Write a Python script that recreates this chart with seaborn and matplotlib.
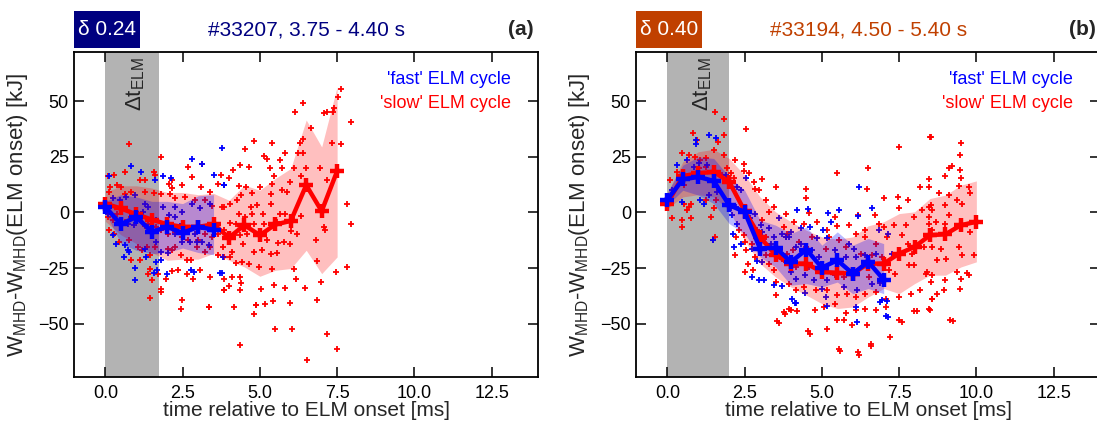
import numpy as np
import pandas as pd
import seaborn as sns
import matplotlib.pyplot as plt
from matplotlib.patches import Rectangle

sns.set_style("ticks")
plt.rcParams['font.family'] = ['Liberation Sans', 'DejaVu Sans']
plt.rcParams['mathtext.fontset'] = 'custom'
plt.rcParams['mathtext.rm'] = 'Liberation Sans'
plt.rcParams['mathtext.it'] = 'Liberation Sans:italic'

# ---------------- mean curves and spread bands ----------------
a_fast_t = [0, 0.5, 1.0, 1.5, 2.0, 2.5, 3.0, 3.5]
a_fast_mean = [2.5, -5.3, -2.0, -8.7, -6.5, -9.2, -6.5, -7.7]
a_fast_hi = [5, 8, 7, 5, 5, 4, 7.5, 8]
a_fast_lo = [0, -14, -17, -18.5, -18, -16, -18, -19]

a_slow_t = [0, 0.5, 1.0, 1.5, 2.0, 2.5, 3.0, 3.5, 4.0, 4.5, 5.0, 5.5, 6.0, 6.5, 7.0, 7.5]
a_slow_mean = [4.0, 1.8, -0.8, -3.2, -5.3, -6.5, -6.5, -5.3, -11.3, -5.7, -10.2, -5.4, -3.8, 12.3, 0.6, 18.6]
a_slow_hi = [9, 12, 12, 11, 9, 9, 8, 8.6, 5.5, 12.3, 10, 15.3, 19.8, 41.6, 29.5, 56.6]
a_slow_lo = [-4, -10, -14, -18, -21.5, -21, -21, -18.4, -21.5, -24.5, -28.7, -26, -25.2, -17, -27.5, -20]

b_fast_t = [0, 0.5, 1.0, 1.5, 2.0, 2.5, 3.0, 3.5, 4.0, 4.5, 5.0, 5.5, 6.0, 6.5, 7.0]
b_fast_mean = [5.8, 14.9, 16.0, 14.2, 3.3, 0.3, -16.2, -15.8, -22.2, -16.7, -24.8, -21.5, -27.5, -22.2, -30.2]
b_fast_hi = [9, 21.3, 25, 24.3, 16, 10, -3.5, -5.7, -9.5, -6.5, -14.7, -8.7, -14.7, -11.7, -14]
b_fast_lo = [3.3, 10, 7.8, 4, -5, -9.5, -20, -24.5, -32.7, -32, -33.5, -31.3, -36.5, -34.2, -36.5]

b_slow_t = [0, 0.5, 1.0, 1.5, 2.0, 2.5, 3.0, 3.5, 4.0, 4.5, 5.0, 5.5, 6.0, 6.5, 7.0, 7.5, 8.0, 8.5, 9.0, 9.5, 10.0]
b_slow_mean = [4.0, 16.4, 17.6, 18.3, 13.8, 0.7, -11, -19.2, -23, -23, -26.7, -27.2, -27.5, -23, -23,
               -18.5, -15.5, -10.2, -9.8, -5.7, -4.2]
b_slow_hi = [8.7, 22.8, 27.3, 28.4, 24.3, 16.8, 7.0, 0.3, -4.2, -8, -11, -12, -11, -6, -4.2,
             -0.5, 0.3, 6.3, 7.8, 12.3, 14.2]
b_slow_lo = [1.8, 7, 8, 7, 1, -12.5, -23, -29, -33.5, -37.2, -41, -43.2, -42.5, -38, -34.2,
             -36.5, -32, -28.2, -28.2, -24.5, -22.2]

# ---------------- individual ELM cycles (time, dW) ----------------
a_slow_pts = [
    (7.63, 55.4), (7.52, 52.1), (7.41, 46.8), (6.38, 49.1), (6.13, 45.0), (7.09, 44.6), (7.17, 45.3),
    (6.65, 37.8), (6.38, 32.9), (6.30, 31.4), (7.33, 31.1), (7.63, 30.8), (4.80, 32.1), (5.38, 31.4),
    (4.53, 28.4), (5.13, 25.4), (5.24, 23.9), (5.65, 23.6), (5.82, 26.9), (6.22, 26.6), (6.40, 26.6),
    (4.35, 21.3), (4.64, 20.6), (4.13, 19.0), (3.99, 15.3), (5.33, 19.8), (5.73, 19.8), (6.09, 19.8),
    (6.49, 19.8), (6.96, 20.1), (7.17, 14.5), (6.33, 16.3), (5.46, 16.3), (5.40, 13.0), (5.98, 13.8),
    (3.83, 12.3), (4.31, 11.8), (4.56, 11.5), (4.75, 8.8), (5.00, 11.5), (5.37, 8.5), (5.71, 10.3),
    (5.89, 9.3), (3.83, 2.5), (4.04, 4.0), (4.26, 5.5), (4.39, 7.8), (4.72, 2.5), (4.91, 3.3),
    (5.35, 4.0), (5.65, -0.5), (5.82, -0.5), (6.05, -2.7), (6.33, -1.7), (4.31, -0.5), (4.53, -2.0),
    (4.75, -0.5), (5.11, -0.8), (4.02, -4.7), (4.24, -5.3), (4.80, -5.3), (5.13, -5.0), (5.56, -4.5),
    (6.02, -8.4), (6.20, -9.5), (7.06, -6.5), (7.11, -7.7), (7.83, 3.7), (7.96, -5.3), (3.83, -8.0),
    (4.15, -10.2), (4.37, -10.2), (4.59, -9.5), (5.22, -12.5), (5.59, -13.7), (5.78, -13.2),
    (5.98, -14.0), (3.80, -15.5), (4.10, -17.7), (4.46, -14.0), (4.80, -17.7), (5.08, -17.0),
    (5.35, -18.5), (5.56, -18.0), (4.04, -20.0), (4.24, -22.7), (4.42, -22.2), (4.64, -23.0),
    (4.97, -24.5), (5.40, -25.2), (6.11, -25.2), (6.81, -12.5), (6.85, -21.9), (7.47, -26.7),
    (7.83, -24.5), (4.10, -29.0), (4.35, -29.0), (4.39, -31.7), (5.04, -34.3), (5.46, -32.8),
    (5.82, -33.8), (6.16, -29.8), (6.47, -34.0), (6.98, -31.3), (4.15, -42.5), (4.86, -41.8),
    (5.16, -41.0), (5.42, -39.8), (5.98, -40.7), (6.84, -39.2), (4.80, -45.5), (5.48, -52.3),
    (6.05, -52.3), (4.35, -59.5), (7.17, -54.8), (7.50, -61.3), (6.52, -66.5), (4.37, -35.0),
    (3.85, -34.7), (3.99, -33.2), (7.95, 40.7), (7.38, 45.0), (3.35, -42.7), (4.89, -41.7),
    (0.78, 30.6), (1.79, 25.1), (2.66, 20.3), (3.14, 21.6), (0.62, 18.3), (0.29, 16.8), (0.08, 16.3),
    (1.11, 14.8), (1.27, 14.5), (1.58, 18.3), (1.62, 16.8), (2.14, 14.8), (2.05, 13.0), (2.16, 11.2),
    (2.47, 12.3), (2.79, 16.0), (3.10, 11.5), (3.39, 9.3), (3.66, 13.0), (3.75, 16.8), (0.16, 11.5),
    (0.38, 12.3), (0.51, 11.5), (0.62, 8.5), (0.84, 9.3), (1.27, 9.3), (1.58, 8.8), (1.81, 8.5),
    (2.09, 8.5), (2.25, 6.7), (2.58, 7.0), (2.90, 5.5), (3.23, 5.8), (3.45, 2.8), (3.77, 2.5),
    (0.13, 9.3), (0.08, -2.0), (0.24, -3.5), (0.38, -0.5), (0.62, -4.2), (0.84, -2.0), (1.11, -3.5),
    (1.27, -6.2), (1.38, -5.0), (1.65, -6.5), (1.81, -8.0), (2.03, -9.5), (2.25, -8.7), (2.47, -11.0),
    (2.68, -12.5), (3.01, -12.5), (3.23, -9.5), (3.45, -11.0), (3.66, -9.5), (0.13, -8.0),
    (0.29, -9.5), (0.43, -13.2), (0.78, -12.5), (1.05, -15.5), (1.18, -17.0), (1.36, -15.5),
    (1.43, -19.2), (1.60, -15.5), (2.03, -16.2), (2.14, -17.0), (2.25, -15.5), (2.44, -19.2),
    (2.63, -21.5), (2.77, -21.5), (2.96, -15.5), (3.23, -17.7), (3.37, -15.5), (3.66, -19.2),
    (3.83, -20.0), (0.84, -21.5), (1.11, -21.5), (1.43, -25.2), (1.38, -27.5), (1.51, -30.2),
    (1.71, -27.5), (1.95, -29.7), (2.16, -26.3), (2.36, -26.0), (2.63, -27.5), (2.85, -29.7),
    (3.06, -26.0), (3.39, -29.0), (3.83, -29.7), (1.79, -34.3), (1.79, -35.8), (1.43, -38.3),
    (2.49, -39.5), (2.44, -43.3), (3.36, -42.5), (3.83, -35.0),
]

a_fast_pts = [
    (0.84, 20.9), (1.14, 18.0), (0.13, 16.3), (1.60, 14.5), (1.87, 16.3), (2.12, 15.3), (2.79, 24.0),
    (3.14, 21.6), (3.50, 16.8), (3.83, 12.3), (0.24, 6.3), (0.46, 5.5), (0.67, 7.0), (0.95, 7.8),
    (1.27, 4.0), (1.38, 2.5), (1.00, 0.3), (1.22, 0.3), (1.87, 2.5), (2.25, 2.5), (2.47, 0.3),
    (2.79, 4.0), (3.06, 1.8), (3.39, 4.0), (0.02, 2.5), (0.08, -0.5), (0.73, -5.0), (0.92, -5.7),
    (1.38, -6.5), (1.65, -3.5), (2.05, -1.2), (2.25, -2.0), (2.49, -5.0), (2.68, -8.0), (2.90, -9.5),
    (3.12, -6.5), (0.24, -10.2), (0.35, -14.0), (0.62, -14.7), (0.73, -17.0), (0.78, -17.7),
    (1.27, -16.2), (1.65, -13.2), (1.81, -17.7), (2.03, -18.2), (2.25, -9.5), (2.47, -13.2),
    (2.74, -13.2), (2.96, -13.2), (3.14, -13.2), (3.34, -14.7), (0.60, -20.0), (1.33, -20.0),
    (1.65, -22.2), (1.81, -21.5), (2.77, -25.7), (2.88, -26.7), (3.72, -27.2), (0.97, -24.8),
    (0.95, -30.2), (1.58, -27.2), (1.68, -26.0), (1.98, -27.5), (3.77, 28.8), (3.85, 12.3),
    (3.80, -20.0), (3.77, -27.2),
]

b_slow_pts = [
    (1.54, 45.3), (1.83, 41.9), (2.53, 37.5), (0.83, 35.6), (0.95, 32.6), (1.83, 34.8), (1.65, 31.8),
    (0.48, 26.6), (0.70, 25.8), (0.91, 25.1), (1.07, 23.6), (1.24, 24.3), (1.51, 28.1), (1.83, 25.8),
    (2.19, 23.6), (2.48, 21.8), (2.48, 18.8), (0.10, 14.6), (0.32, 18.3), (0.53, 12.3), (1.02, 19.8),
    (1.24, 20.6), (1.78, 16.8), (2.15, 15.3), (2.64, 17.6), (2.80, 13.8), (3.07, 14.9), (2.85, 10.4),
    (3.50, 11.3), (0.53, 4.0), (0.70, 2.5), (0.78, 4.0), (0.64, 1.0), (1.24, 5.5), (1.56, 5.5),
    (1.51, 1.8), (1.40, -2.0), (0.16, -2.3), (0.48, -3.5), (0.48, -6.5), (0.75, -2.7), (1.54, -11.0),
    (1.47, -12.2), (2.19, -19.2), (2.51, -13.2), (2.53, -17.0), (2.51, -26.7), (2.77, -26.0),
    (2.62, -23.0), (2.85, -20.0), (3.18, -11.0), (3.45, 2.5), (3.77, -6.5), (3.88, -9.5),
    (3.29, -23.0), (3.45, -26.0), (3.50, -31.3), (3.50, -37.2), (3.77, -44.7), (3.55, -48.8),
    (3.93, -43.3), (2.05, 17.6), (1.94, 14.6), (1.94, 19.8), (2.96, 10.1), (3.18, 5.5), (3.29, 0.3),
    (3.07, -3.5), (2.91, -8.0), (2.31, -8.0), (2.21, -11.0), (2.48, -10.2), (2.75, -14.3),
    (3.18, -15.5), (3.72, -20.8), (3.88, -18.5), (3.18, -19.2),
    (8.49, 34.1), (7.49, 29.3), (5.50, 17.9), (6.50, 19.8), (6.47, 10.5), (4.49, 10.5), (4.49, 6.3),
    (8.46, 14.9), (8.46, 11.3), (8.19, 11.3), (7.01, 6.3), (7.47, 7.0), (7.80, 5.5), (7.49, 1.8),
    (3.83, -0.5), (4.58, -0.2), (5.44, -2.0), (6.18, -1.2), (6.72, -1.2), (4.09, -4.2), (4.42, -5.0),
    (4.85, -4.2), (5.17, -8.0), (5.50, -6.2), (5.87, -5.7), (6.09, -9.5), (6.41, -8.0), (6.84, -5.0),
    (7.01, -6.5), (7.33, -5.7), (7.71, -5.7), (7.98, -2.0), (8.46, 2.5), (8.25, 1.0), (8.46, -5.0),
    (8.57, -8.0), (3.85, -11.0), (4.26, -13.2), (4.69, -11.0), (5.23, -11.0), (5.55, -12.5),
    (6.41, -11.0), (6.74, -14.0), (7.12, -11.0), (7.60, -10.2), (7.80, -14.0), (8.30, -15.5),
    (7.49, -18.5), (7.92, -18.5), (4.06, -17.0), (4.49, -15.5), (5.12, -16.2), (5.77, -15.5),
    (6.28, -18.5), (6.63, -19.2), (6.95, -20.0), (3.83, -22.2), (4.15, -24.5), (4.58, -24.5),
    (4.90, -26.0), (5.44, -28.2), (5.71, -29.0), (6.52, -29.0), (7.17, -26.0), (7.38, -27.5),
    (7.82, -23.7), (7.98, -23.7), (8.41, -26.7), (8.57, -28.2), (3.95, -32.0), (4.15, -35.0),
    (4.42, -33.5), (4.80, -35.0), (5.17, -35.0), (5.50, -37.2), (5.82, -36.5), (6.09, -38.0),
    (6.41, -36.5), (6.74, -35.7), (7.06, -38.7), (7.49, -38.0), (7.87, -36.8), (8.19, -35.0),
    (8.55, -38.7), (3.99, -44.0), (4.20, -44.5), (4.77, -44.0), (5.07, -42.5), (5.44, -41.0),
    (6.09, -44.0), (6.41, -43.3), (6.74, -44.0), (7.06, -42.5), (7.49, -48.5), (7.98, -44.3),
    (8.09, -44.3), (8.46, -43.3), (4.56, -53.5), (5.17, -52.3), (5.50, -48.2), (5.71, -48.5),
    (5.98, -50.8), (6.47, -50.8), (7.19, -56.0), (5.55, -61.3), (6.18, -62.8), (6.58, -59.3),
    (7.58, -49.3), (5.77, -45.2), (3.60, -49.8), (4.60, -54.5), (5.60, -62.4), (6.20, -64.0),
    (6.60, -60.0), (9.24, -48.6), (3.80, -45.5),
    (8.52, 34.1), (9.49, 31.4), (9.46, 25.8), (9.20, 20.9), (9.13, 19.8), (9.46, 19.1), (8.98, 16.4),
    (9.49, 15.3), (9.43, 11.9), (9.76, 11.6), (9.81, 8.6), (8.79, 8.6), (9.11, 7.8), (9.38, 5.5),
    (9.54, 4.0), (8.52, 3.3), (8.99, 3.3), (8.57, 1.0), (9.11, -1.2), (8.46, -2.0), (8.68, -4.2),
    (9.00, -5.0), (9.81, -8.7), (8.57, -15.5), (8.84, -16.2), (9.43, -15.5), (9.54, -19.2),
    (8.73, -21.5), (9.02, -20.8), (9.92, -19.2), (8.36, -27.5), (8.52, -31.3), (8.98, -30.5),
    (9.38, -26.7), (9.49, -29.7), (9.71, -27.2), (9.46, -34.2), (8.95, -34.7), (8.73, -36.8),
    (8.57, -38.7), (8.49, -43.7), (9.16, -48.5), (9.76, -28.2),
]

b_fast_pts = [
    (1.34, 34.8), (1.58, 33.6), (0.93, 32.6), (0.93, 30.8), (0.32, 21.3), (0.64, 23.6), (0.86, 20.6),
    (1.02, 22.4), (1.29, 21.3), (1.91, 16.8), (1.99, 13.1), (2.26, 11.6), (2.37, 10.1), (2.53, 15.3),
    (0.14, 10.1), (0.48, 4.8), (1.07, 5.5), (1.18, 4.0), (1.34, 7.8), (1.61, 9.3), (2.05, 1.8),
    (2.21, 2.5), (2.08, -1.2), (2.26, -5.0), (2.66, -2.7), (2.85, -0.5), (2.12, -9.8), (1.47, -12.2),
    (2.37, -14.0), (2.15, -15.5), (2.75, -16.2), (3.02, -5.7), (3.07, -8.7), (3.29, -7.2),
    (3.61, -2.7), (3.45, -11.0), (3.34, -14.0), (3.72, -9.5), (3.93, -11.0), (3.66, -17.0),
    (2.91, -21.8), (3.07, -22.2), (2.75, -29.0), (2.96, -30.5), (3.12, -30.5), (3.45, -32.7),
    (3.72, -33.2),
    (6.20, 11.6), (6.61, 1.8), (4.20, 1.0), (4.56, 1.4), (5.21, -0.2), (5.55, 1.0), (6.18, -1.7),
    (4.31, -6.8), (4.60, -6.5), (5.03, -7.7), (5.28, -4.2), (3.83, -11.0), (3.99, -8.7),
    (4.31, -14.0), (4.85, -11.7), (5.17, -11.7), (5.87, -14.3), (6.04, -16.2), (6.41, -19.2),
    (6.84, -7.7), (7.15, -9.5), (7.28, -18.5), (4.15, -15.5), (4.69, -17.0), (4.90, -20.0),
    (5.44, -17.0), (5.77, -20.0), (6.09, -20.0), (6.74, -18.5), (3.99, -26.7), (4.15, -29.7),
    (4.47, -28.2), (4.74, -30.5), (5.17, -30.5), (5.71, -33.5), (5.01, -34.2), (4.47, -36.2),
    (5.12, -38.0), (6.14, -35.0), (6.63, -32.0), (6.87, -31.7), (6.95, -39.2), (7.12, -39.8),
    (7.06, -46.7), (6.09, -42.5), (4.02, -38.7), (4.13, -40.7), (6.14, -49.3), (4.16, -40.8),
    (5.15, -42.2), (7.13, -47.1), (6.89, -40.3),
]

RED = "#ff0000"
BLUE = "#0000ff"
AX_W = 0.4225

fig = plt.figure(figsize=(10.97, 4.21), dpi=100)
ax_a = fig.add_axes([0.0679, 0.1045, AX_W, 0.771])
ax_b = fig.add_axes([0.5802, 0.1045, AX_W, 0.771])

panels = [
    (ax_a, 1.74, 0.97, a_slow_pts, a_fast_pts,
     (a_slow_t, a_slow_mean, a_slow_hi, a_slow_lo), (a_fast_t, a_fast_mean, a_fast_hi, a_fast_lo),
     "δ 0.24", "#33207, 3.75 - 4.40 s", "(a)", "#000080"),
    (ax_b, 2.0, 1.15, b_slow_pts, b_fast_pts,
     (b_slow_t, b_slow_mean, b_slow_hi, b_slow_lo), (b_fast_t, b_fast_mean, b_fast_hi, b_fast_lo),
     "δ 0.40", "#33194, 4.50 - 5.40 s", "(b)", "#c04000"),
]

for ax, dt_elm, dt_x, slow_pts, fast_pts, slow, fast, delta, shot, tag, tcol in panels:
    ax.axvspan(0, dt_elm, color="#b3b3b3", lw=0, zorder=0)

    slow_df = pd.DataFrame(slow_pts, columns=["t", "dW"])
    fast_df = pd.DataFrame(fast_pts, columns=["t", "dW"])
    sns.scatterplot(data=slow_df, x="t", y="dW", marker="+", s=20, color=RED,
                    linewidth=1.3, ax=ax, zorder=2, legend=False)
    sns.scatterplot(data=fast_df, x="t", y="dW", marker="+", s=20, color=BLUE,
                    linewidth=1.3, ax=ax, zorder=2, legend=False)

    # spread bands, then mean curves on top
    for (t, m, hi, lo), col, al in [(slow, RED, 0.25), (fast, BLUE, 0.28)]:
        ax.fill_between(t, lo, hi, color=col, alpha=al, lw=0, zorder=3)
    for (t, m, hi, lo), col in [(slow, RED), (fast, BLUE)]:
        sns.lineplot(x=t, y=m, color=col, lw=3.2, marker="+", markersize=10,
                     markeredgewidth=3.2, markeredgecolor=col, ax=ax, zorder=4)

    ax.set_xlim(-1, 14)
    ax.set_ylim(-74, 72)
    ax.set_xticks([0, 2.5, 5, 7.5, 10, 12.5])
    ax.set_xticklabels(["0.0", "2.5", "5.0", "7.5", "10.0", "12.5"])
    ax.set_yticks([-50, -25, 0, 25, 50])
    ax.tick_params(direction="in", length=7, width=1.1, labelsize=13,
                   top=True, right=True, colors="black")
    ax.tick_params(axis="x", pad=6)
    ax.tick_params(axis="y", pad=4)
    for sp in ax.spines.values():
        sp.set_linewidth(1.3)
        sp.set_color("black")
    ax.set_xlabel("time relative to ELM onset [ms]", fontsize=15, labelpad=-1)
    ax.set_ylabel(r"W$_\mathregular{MHD}$-W$_\mathregular{MHD}$(ELM onset) [kJ]", fontsize=16, labelpad=6)

    ax.text(dt_x, 70, "Δt$_\\mathregular{ELM}$", rotation=90, ha="center", va="top",
            fontsize=16, zorder=5)
    ax.text(0.942, 0.916, "'fast' ELM cycle", color=BLUE, fontsize=13, ha="right", va="center",
            transform=ax.transAxes)
    ax.text(0.942, 0.844, "'slow' ELM cycle", color=RED, fontsize=13, ha="right", va="center",
            transform=ax.transAxes)

    # header: coloured delta box, shot label, panel tag
    x0 = ax.get_position().x0
    fig.add_artist(Rectangle((x0, 1 - 48 / 421), 66 / 1097, 37.5 / 421,
                             transform=fig.transFigure, facecolor=tcol, edgecolor="none"))
    y_head = 1 - 29.5 / 421
    fig.text(x0 + 33 / 1097, y_head, delta, color="white", fontsize=15, ha="center", va="center")
    fig.text(x0 + AX_W / 2, y_head, shot, color=tcol, fontsize=15, ha="center", va="center")
    fig.text(x0 + AX_W - 4 / 1097, y_head, tag, fontsize=15, fontweight="bold",
             ha="right", va="center")

fig.savefig("out.png", dpi=100)
